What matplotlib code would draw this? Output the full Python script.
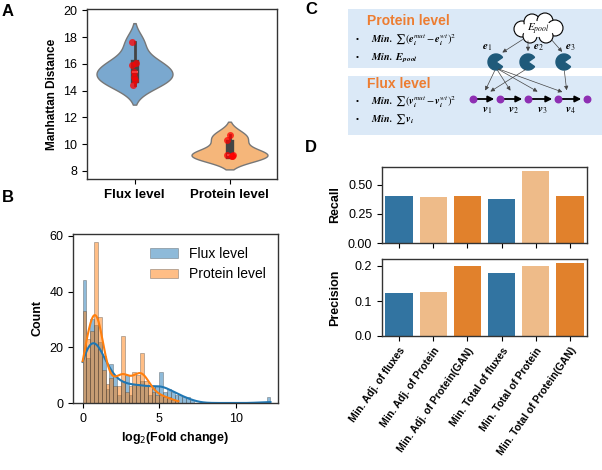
import numpy as np
import pandas as pd
import matplotlib
matplotlib.use("Agg")
import matplotlib.pyplot as plt
import seaborn as sns
from matplotlib.patches import Rectangle, Wedge, Ellipse, Circle

# ─── DATA ─────────────────────────────────────────────────────────────────────
flux_dist = [17.6, 16.1, 15.9, 15.4, 15.0, 14.8, 14.4]
protein_dist = [10.7, 10.3, 9.2, 9.2, 9.15, 9.1]
violin_labels = ["Flux level", "Protein level"]

bin_w = 0.25
flux_counts = [44, 16, 30, 28, 22, 17, 5, 14, 10, 3, 8, 10, 3, 7, 7, 8, 6, 3, 6, 6,
               11, 4, 5, 4, 3, 3, 2, 2, 1] + [0] * 19 + [2]
protein_counts = [33, 23, 26, 58, 31, 12, 7, 9, 6, 6, 24, 4, 6, 11, 10, 18, 8, 6, 4, 3,
                  3, 2, 2, 1, 1]

methods = ["Min. Adj. of fluxes", "Min. Adj. of Protein", "Min. Adj. of Protein(GAN)",
           "Min. Total of fluxes", "Min. Total of Protein", "Min. Total of Protein(GAN)"]
recall = [0.40, 0.39, 0.40, 0.38, 0.62, 0.40]
precision = [0.123, 0.125, 0.20, 0.18, 0.20, 0.21]

# ─── STYLE ────────────────────────────────────────────────────────────────────
plt.rcParams["font.family"] = ["Liberation Sans", "DejaVu Sans"]
plt.rcParams["font.size"] = 9
plt.rcParams["axes.edgecolor"] = "#333333"
plt.rcParams["axes.linewidth"] = 1.0

fig = plt.figure(figsize=(6.02, 4.70), dpi=100)
W, H = 602, 470


def px_axes(x0, y0, x1, y1):
    return fig.add_axes([x0 / W, 1 - y1 / H, (x1 - x0) / W, (y1 - y0) / H])


# ─── A: violin ────────────────────────────────────────────────────────────────
axA = px_axes(87, 9, 277, 179)
dfA = pd.DataFrame({"level": [violin_labels[0]] * len(flux_dist) + [violin_labels[1]] * len(protein_dist),
                    "dist": flux_dist + protein_dist})
sns.violinplot(data=dfA, x="level", y="dist", hue="level", palette=["#7aa8cf", "#f5b67a"],
               inner="box", linecolor="#777777", linewidth=1, ax=axA, legend=False, saturation=1,
               width=0.8, inner_kws={"box_width": 6, "color": "#444444"})
sns.stripplot(data=dfA, x="level", y="dist", color="red", alpha=0.75, size=5, jitter=0.04,
              ax=axA)
axA.set_ylim(7.4, 20.1)
axA.set_yticks([8, 10, 12, 14, 16, 18, 20])
axA.set_xlabel("")
axA.set_ylabel("Manhattan Distance", fontweight="bold", fontsize=8.5)
for t in axA.get_xticklabels():
    t.set_fontweight("bold")
    t.set_fontsize(9.5)

# ─── B: histogram ─────────────────────────────────────────────────────────────
axB = px_axes(73, 234, 278, 403)
for counts, col, lab in [(flux_counts, "#1f77b4", "Flux level"),
                         (protein_counts, "#ff7f0e", "Protein level")]:
    counts = np.array(counts, dtype=float)
    edges = np.arange(len(counts) + 1) * bin_w
    centers = edges[:-1] + bin_w / 2
    axB.hist(centers, bins=edges, weights=counts, color=col, alpha=0.5,
             edgecolor="#444444", linewidth=0.5, label=lab)
    # weighted gaussian kde, scaled to counts
    mean = np.average(centers, weights=counts)
    sd = np.sqrt(np.average((centers - mean) ** 2, weights=counts))
    bw = 0.9 * sd * counts.sum() ** (-0.2)
    xs = np.linspace(0, edges[-1], 400)
    dens = (counts[None, :] * np.exp(-0.5 * ((xs[:, None] - centers[None, :]) / bw) ** 2)).sum(1)
    dens = dens / (bw * np.sqrt(2 * np.pi)) * bin_w
    axB.plot(xs, dens, color=col, lw=1.5)
axB.set_xlim(-0.63, 12.74)
axB.set_ylim(0, 60.7)
axB.set_yticks([0, 20, 40, 60])
axB.set_xticks([0, 5, 10])
axB.set_xlabel(r"log$_2$(Fold change)", fontweight="bold")
axB.set_ylabel("Count", fontweight="bold")
axB.legend(frameon=False, fontsize=10, loc="upper right")

# ─── D: bars ──────────────────────────────────────────────────────────────────
pal = ["#1f77b4", "#ffbb78", "#ff7f0e"] * 2
axR = px_axes(382, 167, 587, 243)
axP = px_axes(382, 259, 587, 336)
sns.barplot(x=methods, y=recall, hue=methods, palette=pal, ax=axR, legend=False)
sns.barplot(x=methods, y=precision, hue=methods, palette=pal, ax=axP, legend=False)
axR.set_ylim(0, 0.65)
axR.set_yticks([0, 0.25, 0.5])
axR.set_ylabel("Recall", fontweight="bold")
axR.set_xticklabels([])
axP.set_ylim(0, 0.22)
axP.set_yticks([0, 0.1, 0.2])
axP.set_ylabel("Precision", fontweight="bold")
axP.set_xticks(range(len(methods)))
axP.set_xticklabels(methods, rotation=55, ha="right", rotation_mode="anchor",
                    fontweight="bold", fontsize=7.5)
for ax in (axR, axP):
    ax.yaxis.set_label_coords(-0.2, 0.5)

# ─── C: schematic + panel letters ─────────────────────────────────────────────
axC = fig.add_axes([0, 0, 1, 1], zorder=-1)
axC.set_xlim(0, W)
axC.set_ylim(H, 0)
axC.axis("off")
axC.patch.set_alpha(0)

for ltr, (x, y) in zip("ABCD", [(2, 12), (2, 197), (305, 10), (305, 148)]):
    axC.text(x, y, ltr, fontsize=12, fontweight="bold", va="center")

blue_bg = "#dbe9f7"
axC.add_patch(Rectangle((348, 9), 254, 59, color=blue_bg, lw=0))
axC.add_patch(Rectangle((348, 76), 254, 59, color=blue_bg, lw=0))
orange = "#ed7d31"
axC.text(367, 21, "Protein level", color=orange, fontweight="bold", fontsize=10, va="center")
axC.text(367, 84, "Flux level", color=orange, fontweight="bold", fontsize=10, va="center")
mk = dict(fontsize=7.5, va="center", math_fontfamily="stix")
lines = [(40, r"$\mathbfit{Min.}\ \sum(\mathbfit{e}_\mathbfit{i}^{mut}-\mathbfit{e}_\mathbfit{i}^{wt})^2$"),
         (58, r"$\mathbfit{Min.}\ \mathbfit{E}_{\mathbfit{pool}}$"),
         (102, r"$\mathbfit{Min.}\ \sum(\mathbfit{v}_\mathbfit{i}^{mut}-\mathbfit{v}_\mathbfit{i}^{wt})^2$"),
         (119, r"$\mathbfit{Min.}\ \sum\mathbfit{v}_\mathbfit{i}$")]
for y, s in lines:
    axC.text(356, y, "•", fontsize=6, va="center")
    axC.text(371, y, s, **mk)

# cloud
for cx, cy, r in [(522, 29, 8), (532, 22, 8), (545, 21, 8), (555, 28, 8), (546, 36, 7), (530, 36, 7)]:
    axC.add_patch(Circle((cx, cy), r, facecolor="white", edgecolor="black", lw=0.8))
axC.add_patch(Ellipse((538, 29), 34, 16, facecolor="white", lw=0))
axC.text(538, 29, r"$E_{pool}$", ha="center", va="center", fontsize=8, math_fontfamily="stix")

pac = [(496, 62), (528, 62), (564, 62)]
for (x, y) in pac:
    axC.add_patch(Wedge((x, y), 8, 35, 325, color="#1f5a7a"))
for (x, y), s in zip([(487, 48), (538, 48), (570, 48)], [r"$\mathbfit{e}_1$", r"$\mathbfit{e}_2$", r"$\mathbfit{e}_3$"]):
    axC.text(x, y, s, ha="center", va="center", fontsize=8, math_fontfamily="stix")

arr = dict(arrowstyle="-|>", color="#444444", lw=0.5, mutation_scale=6)
for (x0, y0), (x1, y1) in [((525, 38), (500, 54)), ((528, 38), (528, 54)), ((550, 38), (564, 54)),
                           ((496, 68), (484, 93)), ((496, 68), (512, 93)), ((496, 68), (540, 93)),
                           ((496, 68), (565, 93)), ((528, 68), (488, 93)), ((564, 68), (567, 93))]:
    axC.annotate("", xy=(x1, y1), xytext=(x0, y0), arrowprops=arr)

nodes = [473, 500, 528, 558, 587]
for a, b in zip(nodes[:-1], nodes[1:]):
    axC.annotate("", xy=(b - 3, 99), xytext=(a, 99),
                 arrowprops=dict(arrowstyle="-|>", color="black", lw=1.3, mutation_scale=9))
axC.scatter(nodes, [99] * 5, s=22, color="#8e2fb3", zorder=5)
for x, s in zip([487, 513, 542, 570], ["1", "2", "3", "4"]):
    axC.text(x, 111, r"$\mathbfit{v}_%s$" % s, ha="center", va="center", fontsize=8,
             math_fontfamily="stix")

fig.savefig("out.png", dpi=100)
